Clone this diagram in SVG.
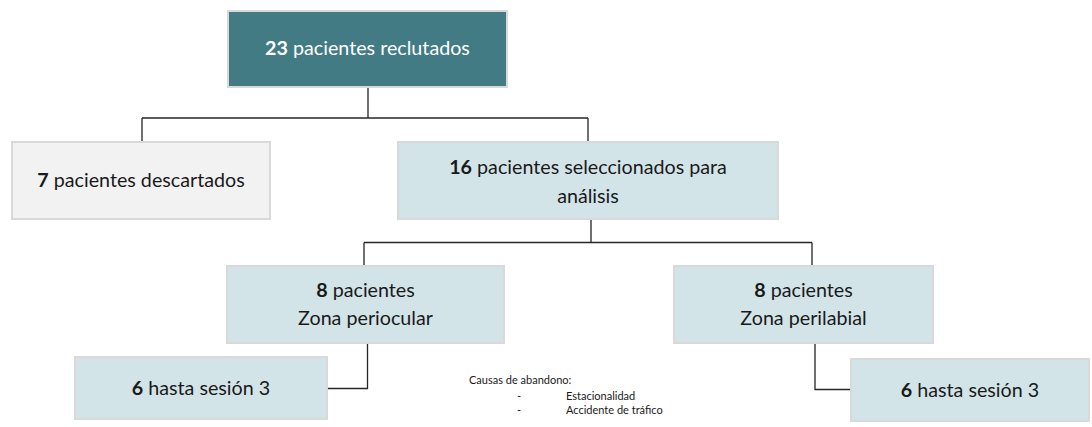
<svg xmlns="http://www.w3.org/2000/svg" width="1092" height="427" viewBox="0 0 1092 427">
<style>
.box{stroke:#d9d9d9;stroke-width:2}
.teal{fill:#427b83}
.light{fill:#d3e4e8}
.grey{fill:#f2f2f2}
.t{font-family:Lato,"Open Sans","Liberation Sans",sans-serif;font-size:19.7px;fill:#1a1a1a;text-anchor:middle}
.w{fill:#ffffff}
.s{font-family:Lato,"Open Sans","Liberation Sans",sans-serif;font-size:11px;fill:#1a1a1a}
.c{fill:none;stroke:#262626;stroke-width:1.3}
</style>
<rect width="1092" height="427" fill="#ffffff"/>
<g id="connectors">
<path class="c" d="M368 87V118M142 118H588M142 118V142M588 118V142"/>
<path class="c" d="M591 219V242.5M364 242.5H812M364 242.5V266M812 242.5V266"/>
<path class="c" d="M367.5 343V388.5H327"/>
<path class="c" d="M815 343V389.5H851"/>
</g>
<g id="n23">
<rect class="box teal" x="228" y="11" width="279" height="76"/>
<text class="t w" x="367.5" y="55"><tspan font-weight="bold">23</tspan> pacientes reclutados</text>
</g>
<g id="n7">
<rect class="box grey" x="12" y="142" width="258" height="77"/>
<text class="t" x="141" y="187"><tspan font-weight="bold">7</tspan> pacientes descartados</text>
</g>
<g id="n16">
<rect class="box light" x="398" y="142" width="380" height="77"/>
<text class="t" x="588" y="174"><tspan font-weight="bold">16</tspan> pacientes seleccionados para</text>
<text class="t" x="588" y="203">análisis</text>
</g>
<g id="nPeriocular">
<rect class="box light" x="227" y="266" width="277" height="77"/>
<text class="t" x="365.5" y="297"><tspan font-weight="bold">8</tspan> pacientes</text>
<text class="t" x="365.5" y="325">Zona periocular</text>
</g>
<g id="nPerilabial">
<rect class="box light" x="674" y="266" width="259" height="77"/>
<text class="t" x="803.5" y="297"><tspan font-weight="bold">8</tspan> pacientes</text>
<text class="t" x="803.5" y="325">Zona perilabial</text>
</g>
<g id="nSesionLeft">
<rect class="box light" x="75" y="357" width="252" height="62"/>
<text class="t" x="201" y="395"><tspan font-weight="bold">6</tspan> hasta sesión 3</text>
</g>
<g id="nSesionRight">
<rect class="box light" x="851" y="359" width="238" height="62"/>
<text class="t" x="970" y="397"><tspan font-weight="bold">6</tspan> hasta sesión 3</text>
</g>
<g id="causas">
<text class="s" x="469" y="384">Causas de abandono:</text>
<text class="s" x="517" y="400">-</text>
<text class="s" x="566" y="400">Estacionalidad</text>
<text class="s" x="517" y="414">-</text>
<text class="s" x="566" y="414">Accidente de tráfico</text>
</g>
</svg>
